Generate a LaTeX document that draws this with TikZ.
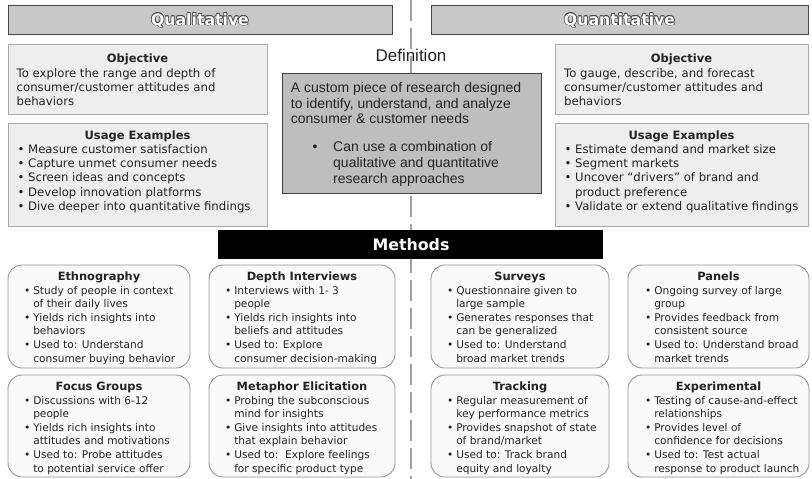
\documentclass[tikz,border=0pt]{standalone}
\usepackage{fontspec}
\setmainfont{DejaVu Sans}
\newfontfamily\arialf{Liberation Sans}
\usetikzlibrary{fit}

\definecolor{hdrfill}{RGB}{200,200,200}
\definecolor{hdrline}{RGB}{70,70,70}
\definecolor{boxfill}{RGB}{238,238,238}
\definecolor{boxline}{RGB}{170,170,170}
\definecolor{deffill}{RGB}{190,190,190}
\definecolor{defline}{RGB}{64,64,64}
\definecolor{mfill}{RGB}{250,250,250}
\definecolor{mline}{RGB}{150,150,150}
\definecolor{divider}{RGB}{160,160,160}
\definecolor{outlcol}{RGB}{70,70,70}
\definecolor{ink}{RGB}{35,35,35}

% white lettering with a thin dark outline
\newcommand\outlined[1]{\leavevmode
  \rlap{\kern-0.7pt\textcolor{outlcol}{#1}}%
  \rlap{\kern0.7pt\textcolor{outlcol}{#1}}%
  \rlap{\raisebox{0.7pt}{\textcolor{outlcol}{#1}}}%
  \rlap{\raisebox{-0.7pt}{\textcolor{outlcol}{#1}}}%
  \rlap{\kern-0.5pt\raisebox{0.5pt}{\textcolor{outlcol}{#1}}}%
  \rlap{\kern0.5pt\raisebox{0.5pt}{\textcolor{outlcol}{#1}}}%
  \rlap{\kern-0.5pt\raisebox{-0.5pt}{\textcolor{outlcol}{#1}}}%
  \rlap{\kern0.5pt\raisebox{-0.5pt}{\textcolor{outlcol}{#1}}}%
  \textcolor{white}{#1}}

% stacked lines and bulleted lists, first baseline on the node's base
\newcommand\stack[1]{\begin{tabular}[t]{@{}l@{}}#1\end{tabular}}
\newcommand\blist[2]{\begin{tabular}[t]{@{}l@{\hspace{#1}}l@{}}#2\end{tabular}}
\newcommand\bl{\textbullet&}

\tikzset{
  hdr/.style={draw=hdrline, fill=hdrfill, line width=1pt, inner sep=0},
  hdrtext/.style={anchor=base, inner sep=0, font=\fontsize{15.7}{18}\selectfont\bfseries},
  pbox/.style={draw=boxline, fill=boxfill, line width=0.9pt, inner sep=0},
  defbox/.style={draw=defline, fill=deffill, line width=0.9pt, inner sep=0},
  mbox/.style={draw=mline, fill=mfill, line width=0.9pt, rounded corners=14pt, inner sep=0},
  ttl/.style={anchor=base, inner sep=0, text=ink, font=\fontsize{11.5}{14}\selectfont\bfseries},
  txt/.style={anchor=base west, inner sep=0, text=ink, font=\fontsize{11.7}{14.2}\selectfont},
  deftxt/.style={anchor=base west, inner sep=0, text=ink, font=\arialf\fontsize{14}{16}\selectfont},
  mttl/.style={anchor=base, inner sep=0, text=ink, font=\fontsize{11.4}{13.6}\selectfont\bfseries},
  mtxt/.style={anchor=base west, inner sep=0, text=ink, font=\fontsize{10.6}{13.6}\selectfont},
}

\begin{document}
\begin{tikzpicture}[x=1pt, y=-1pt]
\useasboundingbox (0,0) rectangle (812,479);
\fill[white] (0,0) rectangle (812,479);

% dashed divider between the two halves
\coordinate (dtop) at (411,0);
\coordinate (dbot) at (411,479);
\draw[divider, line width=2.6pt, dash pattern=on 21pt off 7pt] (dtop) -- (dbot);

% headers
\node[hdr, fit={(8,5) (392,34)}] (qualhdr) {};
\node[hdrtext] (qualT) at (200,25) {\outlined{Qualitative}};
\node[hdr, fit={(431,5) (808,34)}] (quanthdr) {};
\node[hdrtext] (quantT) at (619.5,25) {\outlined{Quantitative}};

% qualitative side
\node[pbox, fit={(8,44) (267,114)}] (lobj) {};
\node[ttl] (lobjH) at (137.5,62) {Objective};
\node[txt] (lobjT) at (16.5,77) {\stack{To explore the range and depth of\\consumer/customer attitudes and\\behaviors}};

\node[pbox, fit={(8,123) (267,226)}] (luse) {};
\node[ttl] (luseH) at (137.5,139.5) {Usage Examples};
\node[txt] (luseT) at (17.5,153.5) {\blist{3.6pt}{\bl Measure customer satisfaction\\
  \bl Capture unmet consumer needs\\
  \bl Screen ideas and concepts\\
  \bl Develop innovation platforms\\
  \bl Dive deeper into quantitative findings}};

% quantitative side
\node[pbox, fit={(555,44) (808,114)}] (robj) {};
\node[ttl] (robjH) at (681.5,62) {Objective};
\node[txt] (robjT) at (564,77) {\stack{To gauge, describe, and forecast\\consumer/customer attitudes and\\behaviors}};

\node[pbox, fit={(555,123) (808,226)}] (ruse) {};
\node[ttl] (ruseH) at (681.5,139.5) {Usage Examples};
\node[txt] (ruseT) at (564.5,153.5) {\blist{3.6pt}{\bl Estimate demand and market size\\
  \bl Segment markets\\
  \bl Uncover “drivers” of brand and\\
  & product preference\\
  \bl Validate or extend qualitative findings}};

% definition
\node[anchor=base, inner sep=0, text=ink, font=\arialf\fontsize{17}{20}\selectfont] (defH) at (411,61) {Definition};
\node[defbox, fit={(282,73) (541,193)}] (defn) {};
\node[deftxt] (defT) at (290.7,92) {\stack{A custom piece of research designed\\to identify, understand, and analyze\\consumer \& customer needs}};
\node[deftxt] (defB) at (312.5,151) {\blist{15.6pt}{\bl Can use a combination of\\
  & qualitative and quantitative\\
  & research approaches}};

% methods banner
\node[fit={(218,230) (603,259)}, fill=black, inner sep=0] (methods) {};
\node[anchor=base, inner sep=0, text=white, font=\fontsize{15.8}{18}\selectfont\bfseries] (methodsT) at (411,250) {Methods};

% method cards, first row
\node[mbox, fit={(8,265) (190,368)}] (ethno) {};
\node[mttl] (ethnoH) at (99,280) {Ethnography};
\node[mtxt] (ethnoT) at (24,294) {\blist{2.8pt}{\bl Study of people in context\\
  & of their daily lives\\
  \bl Yields rich insights into\\
  & behaviors\\
  \bl Used to: Understand\\
  & consumer buying behavior}};

\node[mbox, fit={(209,265) (395,368)}] (depth) {};
\node[mttl] (depthH) at (302,280) {Depth Interviews};
\node[mtxt] (depthT) at (225,294) {\blist{2.8pt}{\bl Interviews with 1- 3\\
  & people\\
  \bl Yields rich insights into\\
  & beliefs and attitudes\\
  \bl Used to: Explore\\
  & consumer decision-making}};

\node[mbox, fit={(431,265) (609,368)}] (surveys) {};
\node[mttl] (surveysH) at (520,280) {Surveys};
\node[mtxt] (surveysT) at (447,294) {\blist{2.8pt}{\bl Questionnaire given to\\
  & large sample\\
  \bl Generates responses that\\
  & can be generalized\\
  \bl Used to: Understand\\
  & broad market trends}};

\node[mbox, fit={(628,265) (809,368)}] (panels) {};
\node[mttl] (panelsH) at (718.5,280) {Panels};
\node[mtxt] (panelsT) at (645,294) {\blist{2.8pt}{\bl Ongoing survey of large\\
  & group\\
  \bl Provides feedback from\\
  & consistent source\\
  \bl Used to: Understand broad\\
  & market trends}};

% method cards, second row
\node[mbox, fit={(8,375) (190,477)}] (focus) {};
\node[mttl] (focusH) at (99,390) {Focus Groups};
\node[mtxt] (focusT) at (24,404) {\blist{2.8pt}{\bl Discussions with 6-12\\
  & people\\
  \bl Yields rich insights into\\
  & attitudes and motivations\\
  \bl Used to: Probe attitudes\\
  & to potential service offer}};

\node[mbox, fit={(209,375) (395,477)}] (metaphor) {};
\node[mttl] (metaphorH) at (302,390) {Metaphor Elicitation};
\node[mtxt] (metaphorT) at (225,404) {\blist{2.8pt}{\bl Probing the subconscious\\
  & mind for insights\\
  \bl Give insights into attitudes\\
  & that explain behavior\\
  \bl Used to:\ \ Explore feelings\\
  & for specific product type}};

\node[mbox, fit={(431,375) (609,477)}] (tracking) {};
\node[mttl] (trackingH) at (520,390) {Tracking};
\node[mtxt] (trackingT) at (447,404) {\blist{2.8pt}{\bl Regular measurement of\\
  & key performance metrics\\
  \bl Provides snapshot of state\\
  & of brand/market\\
  \bl Used to: Track brand\\
  & equity and loyalty}};

\node[mbox, fit={(628,375) (809,477)}] (experim) {};
\node[mttl] (experimH) at (718.5,390) {Experimental};
\node[mtxt] (experimT) at (645,404) {\blist{2.8pt}{\bl Testing of cause-and-effect\\
  & relationships\\
  \bl Provides level of\\
  & confidence for decisions\\
  \bl Used to: Test actual\\
  & response to product launch}};
\end{tikzpicture}
\end{document}
